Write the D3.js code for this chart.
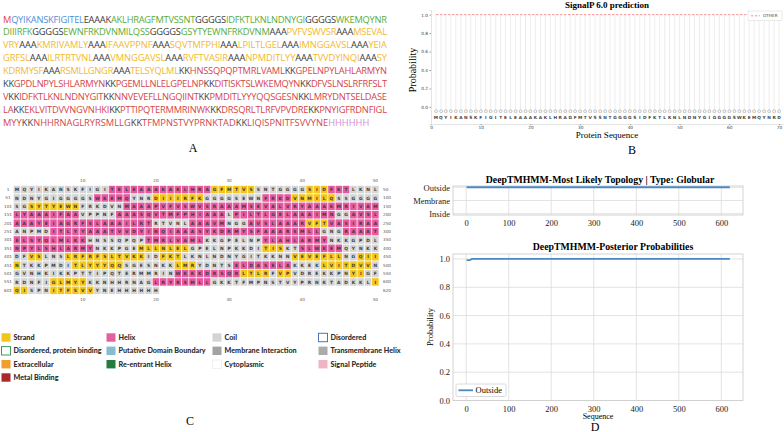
<!DOCTYPE html>
<html>
<head>
<meta charset="utf-8">
<script src="https://cdn.jsdelivr.net/npm/d3@7/dist/d3.min.js"></script>
<style>
  body { margin: 0; background: #fff; }
  svg { display: block; }
</style>
</head>
<body>
<div id="chart"></div>
<script>
// ---- data ----
// A: construct sequence, one entry per printed line, [text, part]
const aLines = [
  [["M","start"],["QYIKANSKFIGITEL","tag"],["EAAAK","link"],["AKLHRAGFMTVSSNT","b"],["GGGGS","link"],["IDFKTLKNLNDNYGI","b"],["GGGGS","link"],["WKEMQYNR","b"]],
  [["DIIIRFK","b"],["GGGGS","link"],["EWNFRKDVNMILQSS","b"],["GGGGS","link"],["GSYTYEWNFRKDVNM","b"],["AAA","link"],["PVFVSWVSR","ctl"],["AAA","link"],["MSEVAL","ctl"]],
  [["VRY","ctl"],["AAA","link"],["KMRIVAMLY","ctl"],["AAA","link"],["IFAAVPPNF","ctl"],["AAA","link"],["SQVTMFPHI","ctl"],["AAA","link"],["LPILTLGEL","ctl"],["AAA","link"],["IMNGGAVSL","ctl"],["AAA","link"],["YEIA","ctl"]],
  [["GRFSL","ctl"],["AAA","link"],["ILRTRTVNL","ctl"],["AAA","link"],["VMNGGAVSL","ctl"],["AAA","link"],["RVFTVASIR","ctl"],["AAA","link"],["NPMDITLYY","ctl"],["AAA","link"],["TVVDYINQI","ctl"],["AAA","link"],["SY","ctl"]],
  [["KDRMYSF","ctl"],["AAA","link"],["RSMLLGNGR","ctl"],["AAA","link"],["TELSYQLML","ctl"],["KK","link"],["HNSSQPQPTMRLVAML","htl"],["KK","link"],["GPELNPYLAHLARMYN","htl"]],
  [["KK","link"],["GPDLNPYLSHLARMYN","htl"],["KK","link"],["PGEMLLNLELGPELNP","htl"],["KK","link"],["DITISKTSLWKEMQYN","htl"],["KK","link"],["DFVSLNSLRFRFSLT","htl"]],
  [["V","htl"],["KK","link"],["IDFKTLKNLNDNYGIT","htl"],["KK","link"],["NNVEVEFLLNGQIINT","htl"],["KK","link"],["PMDITLYYYQQSGESN","htl"],["KK","link"],["LMRYDNTSELDASE","htl"]],
  [["LA","htl"],["KK","link"],["EKLVITDVVNGVNHKI","htl"],["KK","link"],["PTTIPQTERMMRINWK","htl"],["KK","link"],["DRSQRLTLRFVPVDRE","htl"],["KK","link"],["PNYIGFRDNFIGL","htl"]],
  [["MYY","htl"],["KK","link"],["NHHRNAGLRYRSMLLG","htl"],["KK","link"],["TFMPNSTVYPRNKTAD","htl"],["KK","link"],["LIQISPNITFSVVYNE","htl"],["HHHHHH","his"]]
];
const partColor = {start:"#e8473f", tag:"#4f90d6", link:"#3c3c3c", b:"#5bab3b", ctl:"#f2b92e", htl:"#d4464a", his:"#d58ed2"};

// B: SignalP 6.0, first 70 residues, probability of OTHER
const spTicksX = [0, 10, 20, 30, 40, 50, 60, 70];
const spTicksY = [0.0, 0.2, 0.4, 0.6, 0.8, 1.0];
const spOther = [1.0,1.0,1.0,1.0,1.0,1.0,1.0,1.0,1.0,1.0, 1.0,1.0,1.0,1.0,1.0,1.0,1.0,1.0,1.0,1.0,
                 1.0,1.0,1.0,1.0,1.0,1.0,1.0,1.0,1.0,1.0, 1.0,1.0,1.0,1.0,1.0,1.0,1.0,1.0,1.0,1.0,
                 1.0,1.0,1.0,1.0,1.0,1.0,1.0,1.0,1.0,1.0, 1.0,1.0,1.0,1.0,1.0,1.0,1.0,1.0,1.0,1.0,
                 1.0,1.0,1.0,1.0,1.0,1.0,1.0,1.0,1.0,1.0];

// C: secondary structure runs (1-based, inclusive)
const helixRuns = [[14,27],[44,46],[62,66],[85,88],[116,159],[165,179],[181,194],[197,219],[225,229],
  [233,240],[244,250],[256,292],[296,310],[319,326],[335,343],[351,361],[390,395],[481,488],[523,531],[570,577]];
const strandRuns = [[28,33],[41,43],[70,76],[89,94],[103,109],[241,243],[368,374],[385,387],[403,404],
  [408,418],[421,423],[439,445],[448,451],[459,465],[473,475],[493,499],[532,535],[537,538],[547,548],
  [556,560],[600,602],[606,611]];
const ssColor = {C:"#d6d6d6", H:"#e85aa0", E:"#f5c71a"};
const legendItems = [
  ["Strand","#f3c419",null],["Helix","#e2629f",null],["Coil","#d4d4d4",null],["Disordered","#fff","#5173b4"],
  ["Disordered, protein binding","#fff","#3d9a5c"],["Putative Domain Boundary","#86bcd2",null],["Membrane Interaction","#a3a3a3",null],["Transmembrane Helix","#ababab",null],
  ["Extracellular","#f0a02a",null],["Re-entrant Helix","#237d3e",null],["Cytoplasmic","#fff","#f0f0f0"],["Signal Peptide","#f0b4c4",null],
  ["Metal Binding","#a82a2a",null]
];

// D: DeepTMHMM
const topoLabels = ["Inside", "Membrane", "Outside"];
const topoSegments = [[1, 620, "Outside"]];
const postX = [1, 6, 10, 12, 14, 60, 200, 400, 620];
const postOutside = [0.992, 0.992, 0.993, 0.998, 1.0, 1.0, 1.0, 1.0, 1.0];
const dTicksX = [0, 100, 200, 300, 400, 500, 600];
const dTicksY = [0.0, 0.2, 0.4, 0.6, 0.8, 1.0];

// ---- drawing ----
const W = 784, H = 432;
const svg = d3.select("#chart").append("svg").attr("width", W).attr("height", H);
const serif = "'Liberation Serif', 'DejaVu Serif', serif";
const sans = "'DejaVu Sans', sans-serif";

// ===== A =====
const seq = aLines.map(l => l.map(s => s[0]).join("")).join("");
const aG = svg.append("g");
aLines.forEach((line, i) => {
  const t = aG.append("text")
    .attr("x", 3).attr("y", 22.5 + i * 12.95)
    .attr("font-family", "'Open Sans', 'Noto Sans', sans-serif")
    .attr("font-size", 9.3);
  line.forEach(s => t.append("tspan").attr("fill", partColor[s[1]]).text(s[0]));
  if (i < aLines.length - 1) {
    const n = line.map(s => s[0]).join("").length;
    const len = t.node().getComputedTextLength();
    t.attr("letter-spacing", (384 - len) / (n - 1));
  }
});

// ===== B =====
const xB = d3.scaleLinear().domain([0, 71]).range([431, 784]);
const yB = d3.scaleLinear().domain([-0.185, 1.05]).range([124, 10]);
const bG = svg.append("g");
bG.append("text").attr("x", 607).attr("y", 7.5).attr("text-anchor", "middle")
  .attr("font-family", serif).attr("font-weight", "bold").attr("font-size", 9).text("SignalP 6.0 prediction");

bG.selectAll(".vl").data(spOther).enter().append("line")
  .attr("x1", (d, i) => xB(i + 1)).attr("x2", (d, i) => xB(i + 1))
  .attr("y1", yB(-0.025)).attr("y2", yB(1.0))
  .attr("stroke", "#e9e9e9").attr("stroke-width", 0.8);
bG.append("path")
  .attr("d", d3.line().x((d, i) => xB(i + 1)).y(d => yB(d))(spOther))
  .attr("fill", "none").attr("stroke", "#f08a8a").attr("stroke-width", 0.9).attr("stroke-dasharray", "2.5,1.5");
bG.selectAll(".o").data(spOther).enter().append("text")
  .attr("x", (d, i) => xB(i + 1)).attr("y", yB(-0.05) + 1.6).attr("text-anchor", "middle")
  .attr("font-family", sans).attr("font-size", 4.6).attr("fill", "#888").text("O");
bG.selectAll(".aa").data(seq.slice(0, 70).split("")).enter().append("text")
  .attr("x", (d, i) => xB(i + 1)).attr("y", yB(-0.11) + 1.6).attr("text-anchor", "middle")
  .attr("font-family", sans).attr("font-weight", "bold").attr("font-size", 4.3).attr("fill", "#444").text(d => d);

const bxAxis = bG.append("g").attr("transform", "translate(0,124)")
  .call(d3.axisBottom(xB).tickValues(spTicksX).tickSize(1.2).tickPadding(0.6));
const byAxis = bG.append("g").attr("transform", "translate(431,0)")
  .call(d3.axisLeft(yB).tickValues(spTicksY).tickFormat(d3.format(".1f")).tickSize(1.5).tickPadding(1.5));
[bxAxis, byAxis].forEach(a => {
  a.select(".domain").attr("stroke", "#e4e4e4");
  a.selectAll(".tick line").attr("stroke", "#999");
  a.selectAll(".tick text").attr("font-family", sans).attr("font-size", 4.3).attr("fill", "#444");
});
bG.append("text").attr("transform", "translate(416,70) rotate(-90)").attr("text-anchor", "middle")
  .attr("font-family", serif).attr("font-size", 10).text("Probability");
bG.append("text").attr("x", 607).attr("y", 137.8).attr("text-anchor", "middle")
  .attr("font-family", serif).attr("font-size", 9).text("Protein Sequence");
// legend
bG.append("rect").attr("x", 748).attr("y", 11).attr("width", 34).attr("height", 9.5)
  .attr("fill", "#fff").attr("stroke", "#ddd").attr("stroke-width", 0.6);
bG.append("line").attr("x1", 751).attr("x2", 760).attr("y1", 15.8).attr("y2", 15.8)
  .attr("stroke", "#f08a8a").attr("stroke-width", 0.9).attr("stroke-dasharray", "2.5,1.5");
bG.append("text").attr("x", 763).attr("y", 17.3).attr("font-family", sans).attr("font-size", 4.2)
  .attr("fill", "#444").text("OTHER");

// ===== C =====
const ss = seq.split("").map(() => "C");
helixRuns.forEach(r => { for (let k = r[0]; k <= r[1]; k++) ss[k - 1] = "H"; });
strandRuns.forEach(r => { for (let k = r[0]; k <= r[1]; k++) ss[k - 1] = "E"; });
const residues = seq.split("").map((aa, i) => ({aa: aa, pos: i + 1, ss: ss[i], row: Math.floor(i / 50), col: i % 50 + 1}));
const nRows = Math.ceil(seq.length / 50);
const xC = d3.scaleBand().domain(d3.range(1, 51)).range([13.65, 378.65]).paddingInner(0.1);
const yC = d3.scaleBand().domain(d3.range(nRows)).range([185.8, 185.8 + nRows * 8.33]).paddingInner(0.1);
const cG = svg.append("g");
cG.selectAll(".cell").data(residues).enter().append("rect")
  .attr("x", d => xC(d.col)).attr("y", d => yC(d.row))
  .attr("width", xC.bandwidth()).attr("height", yC.bandwidth())
  .attr("fill", d => ssColor[d.ss]);
cG.selectAll(".res").data(residues).enter().append("text")
  .attr("x", d => xC(d.col) + xC.bandwidth() / 2).attr("y", d => yC(d.row) + yC.bandwidth() / 2 + 1.6)
  .attr("text-anchor", "middle").attr("font-family", sans).attr("font-weight", "bold")
  .attr("font-size", 4.4).attr("fill", "#3a3a3a").text(d => d.aa);
cG.selectAll(".rs").data(d3.range(nRows)).enter().append("text")
  .attr("x", 8).attr("y", r => yC(r) + yC.bandwidth() / 2 + 1.5).attr("text-anchor", "middle")
  .attr("font-family", sans).attr("font-size", 4.2).attr("fill", "#555").text(r => r * 50 + 1);
cG.selectAll(".re").data(d3.range(nRows)).enter().append("text")
  .attr("x", 383).attr("y", r => yC(r) + yC.bandwidth() / 2 + 1.5)
  .attr("font-family", sans).attr("font-size", 4.2).attr("fill", "#555")
  .text(r => Math.min((r + 1) * 50, seq.length));
[181.5, 301].forEach(y => {
  cG.selectAll(null).data([10, 20, 30, 40, 50]).enter().append("text")
    .attr("x", c => xC(c) + xC.bandwidth() / 2).attr("y", y).attr("text-anchor", "middle")
    .attr("font-family", sans).attr("font-size", 4.2).attr("fill", "#555").text(c => c);
});
// legend
const legCols = [1, 106, 212, 318], legRows = [337.5, 350.8, 364.2, 377.5];
const lg = cG.selectAll(".lg").data(legendItems).enter().append("g")
  .attr("transform", (d, i) => `translate(${legCols[i % 4]},${legRows[Math.floor(i / 4)]})`);
lg.append("rect").attr("x", 0.5).attr("y", -4.2).attr("width", 9).attr("height", 8.4)
  .attr("fill", d => d[1]).attr("stroke", d => d[2] || "none").attr("stroke-width", 1);
lg.append("text").attr("x", 12.5).attr("y", 2.5)
  .attr("font-family", "Lato, 'Open Sans', sans-serif").attr("font-weight", "900")
  .attr("font-size", 7.2).attr("fill", "#2e2e2e").text(d => d[0]);

// ===== D =====
const xD = d3.scaleLinear().domain([-31, 651]).range([453, 743]);
const yTop = d3.scaleLinear().domain([-0.1, 2.1]).range([215, 186]);
const yBot = d3.scaleLinear().domain([0, 1.035]).range([400.5, 254]);
const dG = svg.append("g");
const blue = "#4b88c2", gridC = "#dcdcdc";

function dFrame(y, y0, y1, yTicks, yFmt) {
  dG.append("g").selectAll("line").data(dTicksX).enter().append("line")
    .attr("x1", d => xD(d)).attr("x2", d => xD(d)).attr("y1", y0).attr("y2", y1)
    .attr("stroke", gridC).attr("stroke-width", 0.8);
  dG.append("g").selectAll("line").data(yTicks).enter().append("line")
    .attr("x1", 453).attr("x2", 743).attr("y1", d => y(d)).attr("y2", d => y(d))
    .attr("stroke", gridC).attr("stroke-width", 0.8);
  dG.append("rect").attr("x", 453).attr("y", y0).attr("width", 290).attr("height", y1 - y0)
    .attr("fill", "none").attr("stroke", "#cfcfcf").attr("stroke-width", 0.9);
  dG.append("g").attr("transform", `translate(0,${y1})`)
    .call(d3.axisBottom(xD).tickValues(dTicksX).tickSize(0).tickPadding(5))
    .call(g => g.select(".domain").remove())
    .call(g => g.selectAll("text").attr("font-family", serif).attr("font-size", 8.5).attr("fill", "#222"));
  dG.append("g").attr("transform", "translate(453,0)")
    .call(d3.axisLeft(y).tickValues(yTicks).tickFormat(yFmt).tickSize(0).tickPadding(3))
    .call(g => g.select(".domain").remove())
    .call(g => g.selectAll("text").attr("font-family", serif).attr("font-size", 8.5).attr("fill", "#222"));
}

// top: most likely topology
dG.append("text").attr("x", 600).attr("y", 183.3).attr("text-anchor", "middle")
  .attr("font-family", serif).attr("font-weight", "bold").attr("font-size", 9.8)
  .text("DeepTMHMM-Most Likely Topology | Type: Globular");
dFrame(yTop, 186, 215, [0, 1, 2], d => topoLabels[d]);
dG.selectAll(".topo").data(topoSegments).enter().append("line")
  .attr("x1", d => xD(d[0])).attr("x2", d => xD(d[1]))
  .attr("y1", d => yTop(topoLabels.indexOf(d[2]))).attr("y2", d => yTop(topoLabels.indexOf(d[2])))
  .attr("stroke", blue).attr("stroke-width", 2);

// bottom: posterior probabilities
dG.append("text").attr("x", 613).attr("y", 249.5).attr("text-anchor", "middle")
  .attr("font-family", serif).attr("font-weight", "bold").attr("font-size", 9.8)
  .text("DeepTMHMM-Posterior Probabilities");
dFrame(yBot, 254, 400.5, dTicksY, d3.format(".1f"));
dG.append("path")
  .attr("d", d3.line().x((d, i) => xD(postX[i])).y(d => yBot(d))(postOutside))
  .attr("fill", "none").attr("stroke", blue).attr("stroke-width", 1.8);
dG.append("text").attr("transform", "translate(433,327) rotate(-90)").attr("text-anchor", "middle")
  .attr("font-family", serif).attr("font-size", 8.5).text("Probability");
dG.append("text").attr("x", 598).attr("y", 419).attr("text-anchor", "middle")
  .attr("font-family", serif).attr("font-size", 8).text("Sequence");
dG.append("rect").attr("x", 456).attr("y", 384).attr("width", 50).attr("height", 12.5)
  .attr("fill", "#fff").attr("stroke", "#d0d0d0").attr("stroke-width", 0.8).attr("rx", 1.5);
dG.append("line").attr("x1", 458.5).attr("x2", 473).attr("y1", 390.3).attr("y2", 390.3)
  .attr("stroke", blue).attr("stroke-width", 1.8);
dG.append("text").attr("x", 475.5).attr("y", 393.3).attr("font-family", serif).attr("font-size", 8.5).text("Outside");

// panel letters
[["A", 193, 152], ["B", 632, 154], ["C", 190, 425], ["D", 595, 431]].forEach(p => {
  svg.append("text").attr("x", p[1]).attr("y", p[2]).attr("text-anchor", "middle")
    .attr("font-family", serif).attr("font-size", 12).text(p[0]);
});
</script>
</body>
</html>
